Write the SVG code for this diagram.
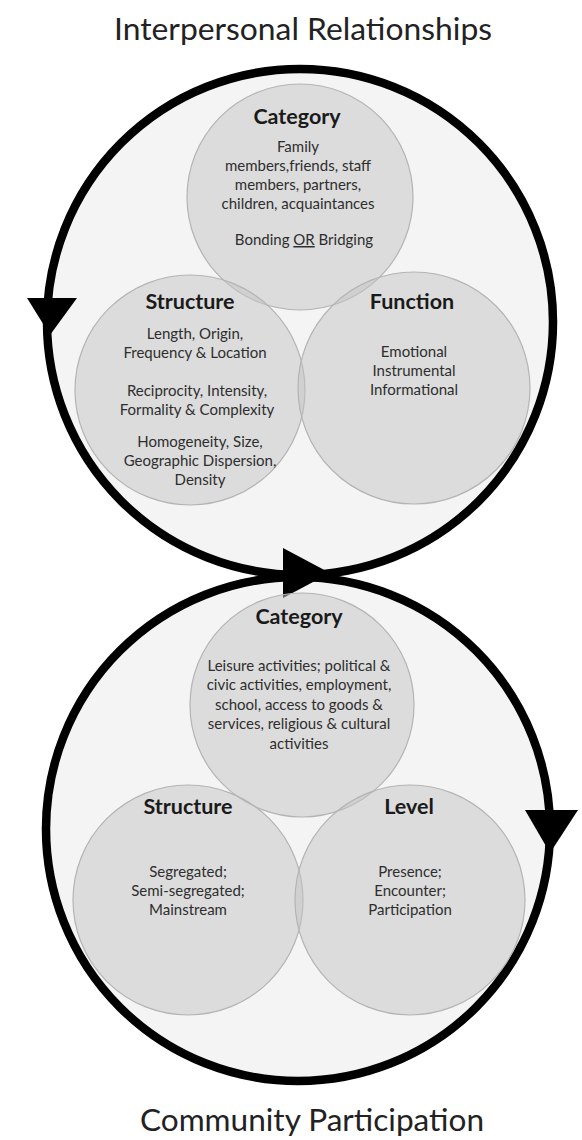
<svg xmlns="http://www.w3.org/2000/svg" width="582" height="1140" viewBox="0 0 582 1140">
<style>
.big{fill:#f4f4f4;stroke:#000;stroke-width:8.5}
.sm{fill:#c4c4c4;fill-opacity:0.5;stroke:#b4b4b4;stroke-width:1.2}
.ttl{font-family:Lato,"Liberation Sans",sans-serif;font-size:30px;fill:#222;text-anchor:middle}
.hd{font-family:Lato,"Liberation Sans",sans-serif;font-size:21.5px;font-weight:bold;fill:#1a1a1a;text-anchor:middle}
.tx{font-family:Lato,"Liberation Sans",sans-serif;font-size:15px;fill:#2e2e2e;text-anchor:middle}
.ah{fill:#000}
</style>
<rect width="582" height="1140" fill="#fff"/>
<g id="connectors">
<circle class="big" cx="300" cy="322" r="253"/>
<circle class="big" cx="298" cy="829" r="252"/>
<polygon class="ah" points="27,298 77,298 50,335"/>
<polygon class="ah" points="283,548 283,598 330,573"/>
<polygon class="ah" points="525,810 578,810 550,853"/>
</g>
<text class="ttl" x="303" y="40" textLength="378" lengthAdjust="spacingAndGlyphs">Interpersonal Relationships</text>
<g id="top-category">
<circle class="sm" cx="300" cy="197" r="113"/>
</g>
<g id="top-structure">
<circle class="sm" cx="190" cy="390" r="115"/>
</g>
<g id="top-function">
<circle class="sm" cx="414" cy="388" r="116"/>
</g>
<g id="top-texts">
<text class="hd" x="297" y="124">Category</text>
<text class="tx" x="298" y="152">Family</text>
<text class="tx" x="298" y="171">members,friends, staff</text>
<text class="tx" x="298" y="190">members, partners,</text>
<text class="tx" x="298" y="209">children, acquaintances</text>
<text class="tx" x="304" y="245">Bonding <tspan text-decoration="underline">OR</tspan> Bridging</text>
<text class="hd" x="190" y="309">Structure</text>
<text class="tx" x="195" y="339">Length, Origin,</text>
<text class="tx" x="195" y="358">Frequency &amp; Location</text>
<text class="tx" x="197" y="396">Reciprocity, Intensity,</text>
<text class="tx" x="197" y="415">Formality &amp; Complexity</text>
<text class="tx" x="200" y="447">Homogeneity, Size,</text>
<text class="tx" x="200" y="466">Geographic Dispersion,</text>
<text class="tx" x="200" y="485">Density</text>
<text class="hd" x="412" y="309">Function</text>
<text class="tx" x="414" y="357">Emotional</text>
<text class="tx" x="414" y="376">Instrumental</text>
<text class="tx" x="414" y="395">Informational</text>
</g>
<g id="bottom-category">
<circle class="sm" cx="302" cy="705" r="112"/>
</g>
<g id="bottom-structure">
<circle class="sm" cx="188" cy="900" r="115"/>
</g>
<g id="bottom-level">
<circle class="sm" cx="410" cy="900" r="115"/>
</g>
<g id="bottom-texts">
<text class="hd" x="299" y="624">Category</text>
<text class="tx" x="299" y="671">Leisure activities; political &amp;</text>
<text class="tx" x="299" y="690">civic activities, employment,</text>
<text class="tx" x="299" y="710">school, access to goods &amp;</text>
<text class="tx" x="299" y="729">services, religious &amp; cultural</text>
<text class="tx" x="299" y="749">activities</text>
<text class="hd" x="188" y="814">Structure</text>
<text class="tx" x="188" y="877">Segregated;</text>
<text class="tx" x="188" y="896">Semi-segregated;</text>
<text class="tx" x="188" y="915">Mainstream</text>
<text class="hd" x="409" y="814">Level</text>
<text class="tx" x="410" y="877">Presence;</text>
<text class="tx" x="410" y="896">Encounter;</text>
<text class="tx" x="410" y="915">Participation</text>
</g>
<text class="ttl" x="312" y="1131" textLength="344" lengthAdjust="spacingAndGlyphs">Community Participation</text>
</svg>
